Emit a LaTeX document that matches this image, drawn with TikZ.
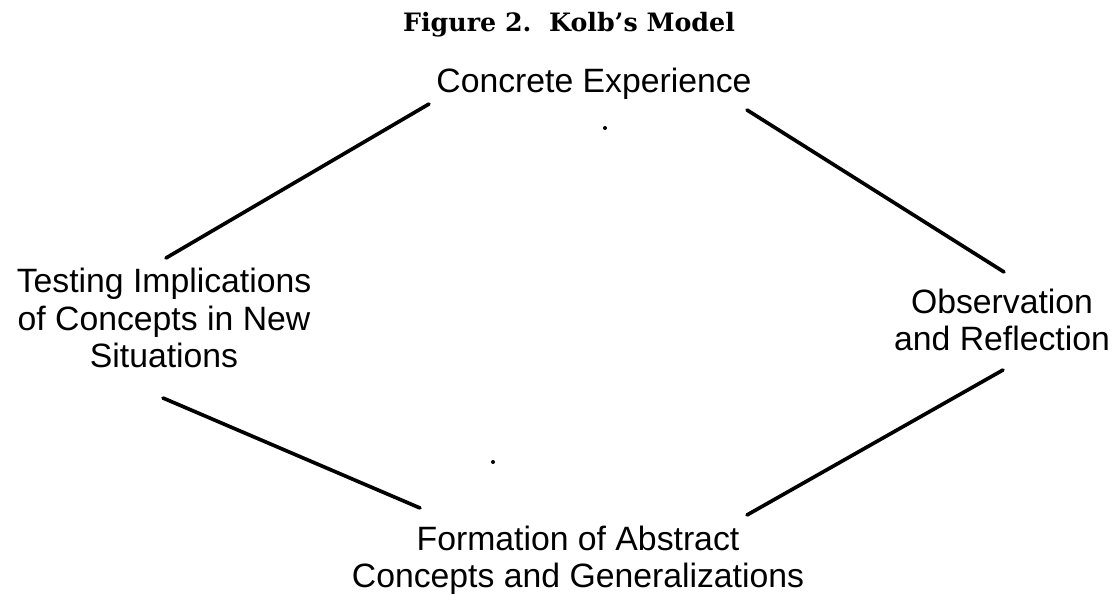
\documentclass[tikz,border=0pt]{standalone}
\usepackage{fontspec}
\setmainfont{DejaVu Serif}
\setsansfont{Liberation Sans}
\usepackage{tikz}
\usetikzlibrary{calc,positioning}

\begin{document}
\begin{tikzpicture}[x=0.025cm,y=-0.025cm]
\tikzstyle{stage}=[inner sep=0pt, align=center, font=\sffamily\fontsize{24}{26.5}\selectfont]
\tikzstyle{link}=[line width=2.6pt, line cap=round]%, black

\useasboundingbox (0,0) rectangle (1120,602);
\node[inner sep=0pt, anchor=base, font=\bfseries\fontsize{18}{21}\selectfont] (title) at (569,32) {Figure 2.\ \ Kolb's Model};
\node[stage] (cE) at (594,84) {Concrete Experience};
\node[stage] (tI) at (164,318) {Testing Implications\\of Concepts in New\\Situations};
\node[stage] (oR) at (1002,320) {Observation\\and Reflection};
\node[stage] (fA) at (578,560) {Formation of Abstract\\Concepts and Generalizations};
\draw[link] ($(tI)+(2,-60)$) -- ($(cE)+(-165,20)$);
\draw[link] ($(cE)+(153,26)$) -- ($(oR)+(2,-48)$);
\draw[link] ($(tI)+(-1,80)$) -- ($(fA)+(-158,-52)$);
\draw[link] ($(fA)+(169,-45)$) -- ($(oR)+(1,50)$);
% specks in the scan
\fill (605,128) circle (2);
\fill (493,462) circle (2);
\end{tikzpicture}
\end{document}
